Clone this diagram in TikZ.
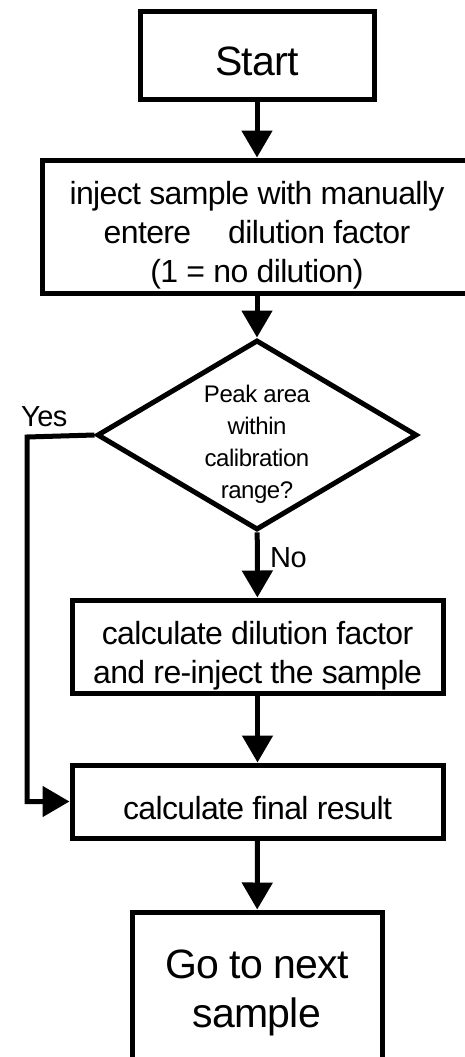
\documentclass[tikz,border=0pt]{standalone}
\usepackage{fontspec}
\setmainfont{Liberation Sans}[LetterSpace=-2]
\usepackage{tikz}
\usetikzlibrary{arrows.meta,shapes.geometric}

% invisible strut that pushes a node's text down a little
\newcommand\topgap[1]{\rule{0pt}{#1}}

\begin{document}
\begin{tikzpicture}[x=1pt,y=-1pt,
  box/.style = {draw, line width=5pt, align=center, inner sep=0pt},
  decision/.style = {draw, diamond, line width=5pt, inner sep=0pt,
    aspect=1.68, minimum width=320pt, minimum height=190pt},
  flowline/.style = {line width=5pt, -{Triangle[length=27pt,width=30pt]}},
  lbl/.style = {inner sep=0pt, font=\fontsize{29}{32}\selectfont},
  bigtext/.style = {font=\fontsize{41}{49}\selectfont},
  boxtext/.style = {font=\fontsize{32}{39}\selectfont},
  smalltext/.style = {align=center, inner sep=0pt, font=\fontsize{24}{32}\selectfont}]
\useasboundingbox (0,0) rectangle (464,1057);

\node[box, bigtext, minimum width=234pt, minimum height=87pt] (start) at (257,55.5)
  {\topgap{40pt}Start};
\node[box, boxtext, minimum width=430pt, minimum height=133pt] (inject) at (257,226.5)
  {\topgap{40pt}inject sample with manually\\ entere\hspace{0.9em} dilution factor\\ (1 = no dilution)};
\node[decision] (range) at (257,435) {};
\node[smalltext] (rangetext) at (257,444) {Peak area\\ within\\ calibration\\ range?};
\node[box, boxtext, minimum width=371pt, minimum height=93pt] (dilute) at (257.5,646.5)
  {\topgap{41pt}calculate dilution factor\\ and re-inject the sample};
\node[box, boxtext, minimum width=371pt, minimum height=73pt] (final) at (257.5,801.5)
  {\topgap{36pt}calculate final result};
\node[box, bigtext, minimum width=250pt, minimum height=152pt] (next) at (257,988)
  {\topgap{38pt}Go to next\\ sample};

% main line down the middle
\draw[flowline] (start) -- (inject);
\draw[flowline] (inject) -- (range);
\draw[flowline] (range) -- (dilute);
\draw[flowline] (dilute) -- (final);
\draw[flowline] (final) -- (next);

% the "Yes" branch goes round on the left
\coordinate (yescorner) at (27,437);
\draw[flowline] (range.west) -- (yescorner) |- (final.west);
\node[lbl, anchor=south west] (yes) at (21,427) {Yes};
\node[lbl, anchor=west] (no) at (270,558) {No};
\end{tikzpicture}
\end{document}
